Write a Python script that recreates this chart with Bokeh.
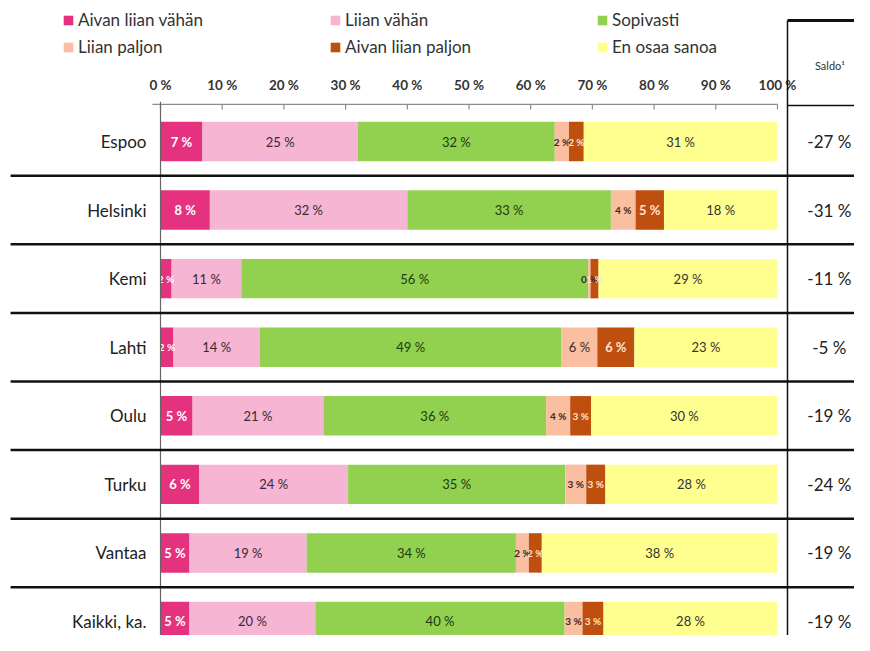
from bokeh.plotting import figure
from bokeh.models import ColumnDataSource, Range1d, Legend
from bokeh.core.properties import value
from bokeh.embed import file_html
from bokeh.resources import INLINE

# ---------------- data ----------------
cities = ["Espoo", "Helsinki", "Kemi", "Lahti", "Oulu", "Turku", "Vantaa", "Kaikki, ka."]
series_names = ["Aivan liian vähän", "Liian vähän", "Sopivasti",
                "Liian paljon", "Aivan liian paljon", "En osaa sanoa"]
aivan_liian_vahan = [6.8, 8.0, 1.8, 2.1, 5.2, 6.3, 4.7, 4.7]
liian_vahan = [25.2, 32.0, 11.3, 14.0, 21.2, 24.1, 19.0, 20.4]
sopivasti = [31.9, 33.0, 56.2, 48.9, 36.1, 35.2, 33.9, 40.4]
liian_paljon = [2.3, 4.0, 0.4, 5.8, 3.9, 3.4, 2.1, 2.9]
aivan_liian_paljon = [2.4, 4.6, 1.3, 6.0, 3.4, 3.1, 2.1, 3.4]
en_osaa_sanoa = [31.4, 18.4, 29.0, 23.2, 30.2, 27.9, 38.2, 28.2]
saldo = [-27, -31, -11, -5, -19, -24, -19, -19]
ticks = [0, 10, 20, 30, 40, 50, 60, 70, 80, 90, 100]

colors = ["#E5327F", "#F5B5D3", "#92D050", "#F9BFA0", "#BF4F0E", "#FFFF8F"]
label_colors = ["#FFFFFF", "#3A2A30", "#1E3A0E", "#3A2A20", "#FCE4D0", "#333333"]
label_styles = ["bold", "normal", "normal", "normal", "bold", "normal"]

FONT = "Lato"
W, H = 854, 635
Y0, Y1 = 7.2043, -2.0563
X0, X1 = -25.932, 112.48

p = figure(width=W, height=H, output_backend="svg", toolbar_location=None,
           x_range=Range1d(X0, X1), y_range=Range1d(Y0, Y1),
           min_border=0, x_axis_location=None, y_axis_location=None,
           outline_line_color=None)
p.xgrid.visible = False
p.ygrid.visible = False

keys = ["a", "b", "c", "d", "e", "f"]
series = [aivan_liian_vahan, liian_vahan, sopivasti, liian_paljon, aivan_liian_paljon, en_osaa_sanoa]
data = {"y": list(range(len(cities)))}
for k, s in zip(keys, series):
    data[k] = s
src = ColumnDataSource(data)

renderers = p.hbar_stack(keys, y="y", height=0.575, color=colors, line_color=None, source=src)

# segment labels
lx, ly, lt, lc, ls, lf = [], [], [], [], [], []
for i in range(len(cities)):
    left = 0.0
    for j, s in enumerate(series):
        v = s[i]
        lx.append(left + v / 2)
        ly.append(i)
        lt.append(f"{round(v)} %")
        lc.append(label_colors[j])
        ls.append("10px" if v < 4.5 else "13px")
        lf.append("bold" if v < 4.5 else label_styles[j])
        left += v
p.text(x="x", y="y", text="t", text_color="c", text_font_size="s", text_font_style="f",
       text_align="center", text_baseline="middle", text_font=value(FONT),
       source=ColumnDataSource(dict(x=lx, y=ly, t=lt, c=lc, s=ls, f=lf)))

# category labels
p.text(x=[-2.27] * len(cities), y=list(range(len(cities))), text=cities,
       text_align="right", text_baseline="middle", text_font=value(FONT),
       text_font_size="17px", text_color="#222222")

# saldo values
p.text(x=[108.4] * len(cities), y=list(range(len(cities))), text=[f"{s} %" for s in saldo],
       text_align="center", text_baseline="middle", text_font=value(FONT),
       text_font_size="17px", text_color="#222222")
p.text(x=[108.5], y=[-1.108], text=["Saldo¹"], text_align="center", text_baseline="middle",
       text_font=value(FONT), text_font_size="11px", text_color="#333333")

# top percentage axis
axis_y = -0.54
p.segment(x0=[-1.3], y0=[axis_y], x1=[ticks[-1]], y1=[axis_y], line_color="#8C8C8C", line_width=1.2)
p.segment(x0=ticks, y0=[axis_y] * len(ticks), x1=ticks, y1=[axis_y + 0.075] * len(ticks),
          line_color="#8C8C8C", line_width=1.2)
p.text(x=ticks, y=[-0.831] * len(ticks), text=[f"{t} %" for t in ticks], text_align="center",
       text_baseline="middle", text_font=value(FONT), text_font_size="13.5px",
       text_font_style="bold", text_color="#333333")
# left axis line
p.segment(x0=[0], y0=[-0.58], x1=[0], y1=[Y0], line_color="#666666", line_width=1.2)

# row separators
seps = [i + 0.5 for i in range(len(cities) - 1)]
p.segment(x0=[-24.3] * len(seps), y0=seps, x1=[X1] * len(seps), y1=seps,
          line_color="#111111", line_width=2.5)
# saldo column frame
p.segment(x0=[101.62], y0=[-1.7646], x1=[101.62], y1=[Y0], line_color="#111111", line_width=1.5)
p.segment(x0=[101.62], y0=[-1.7646], x1=[X1], y1=[-1.7646], line_color="#111111", line_width=3)
p.segment(x0=[101.62], y0=[-0.525], x1=[X1], y1=[-0.525], line_color="#111111", line_width=1.5)

legend = Legend(items=[(n, [r]) for n, r in zip(series_names, renderers)],
                location=(62, 578), orientation="horizontal", nrows=2,
                glyph_width=12, glyph_height=12, label_width=245, label_height=20,
                label_standoff=4, spacing=6, padding=0, margin=0,
                border_line_alpha=0, background_fill_alpha=0,
                label_text_font=FONT, label_text_font_size="17px", label_text_color="#333333")
p.add_layout(legend)

open("out.html", "w").write(file_html(p, INLINE))
